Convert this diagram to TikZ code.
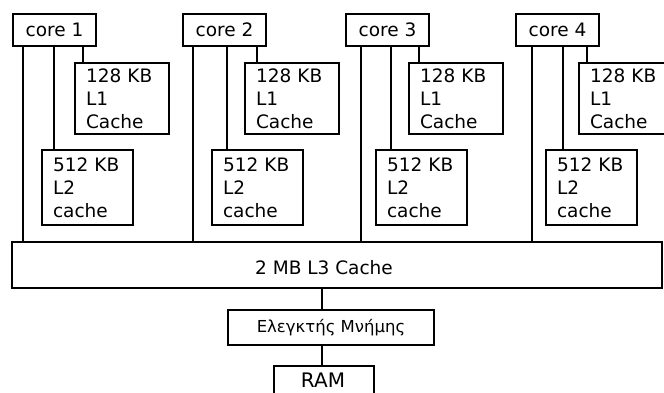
\documentclass[tikz,border=0pt]{standalone}
\usepackage{fontspec}
\setmainfont{DejaVu Sans}
\begin{document}
\begin{tikzpicture}[x=1pt,y=-1pt,
  box/.style={draw, line width=2pt, rectangle, inner sep=0pt},
  corebox/.style={box, anchor=north west, minimum width=83pt, minimum height=32pt, font=\fontsize{18.5}{23}\selectfont},
  lonebox/.style={box, anchor=north west, minimum width=94pt, minimum height=71pt, text width=72pt, inner xsep=11pt, align=left, font=\fontsize{18.5}{23}\selectfont},
  ltwobox/.style={box, anchor=north west, minimum width=91pt, minimum height=75pt, text width=69pt, inner xsep=11pt, align=left, font=\fontsize{18.5}{23}\selectfont},
  wire/.style={line width=2pt}]
\useasboundingbox (0,0) rectangle (664,392);
\fill[white] (0,0) rectangle (664,392);

% L3
\node[box, anchor=north west, minimum width=650pt, minimum height=46pt] (l3) at (11,241) {};
\node[font=\fontsize{18.5}{23}\selectfont] (l3t) at (324,267.5) {2 MB L3 Cache};

% controller and RAM
\node[box, anchor=north west, minimum width=206pt, minimum height=35pt, font=\fontsize{16.5}{20}\selectfont] (mc) at (227,309) {Ελεγκτής Μνήμης};
\node[box, anchor=north west, minimum width=100pt, minimum height=36pt] (ram) at (273,365) {};
\node[font=\fontsize{20}{24}\selectfont, inner sep=0pt] (ramt) at (323,380.5) {RAM};
\coordinate (bx) at (322,0);
\draw[wire] (l3.south -| bx) -- (mc.north -| bx);
\draw[wire] (mc.south -| bx) -- (ram.north -| bx);

\foreach \i/\cx/\lx/\mx/\xa/\xb/\xc in {1/12/74/41/23/54/83, 2/182/244/211/193/227/257, 3/345/408/375/361/391/419, 4/515/578/545/532/563/587}{
  \node[corebox] (c\i) at (\cx,13) {core \i};
  \node[lonebox] (la\i) at (\lx,62) {128 KB\\L1\\Cache};
  \node[ltwobox] (lb\i) at (\mx,149) {512 KB\\L2\\cache};
  \coordinate (xa\i) at (\xa,0);
  \coordinate (xb\i) at (\xb,0);
  \coordinate (xc\i) at (\xc,0);
  \draw[wire] (c\i.south -| xa\i) -- (l3.north -| xa\i);
  \draw[wire] (c\i.south -| xb\i) -- (lb\i.north -| xb\i);
  \draw[wire] (c\i.south -| xc\i) -- (la\i.north -| xc\i);
}
\end{tikzpicture}
\end{document}
